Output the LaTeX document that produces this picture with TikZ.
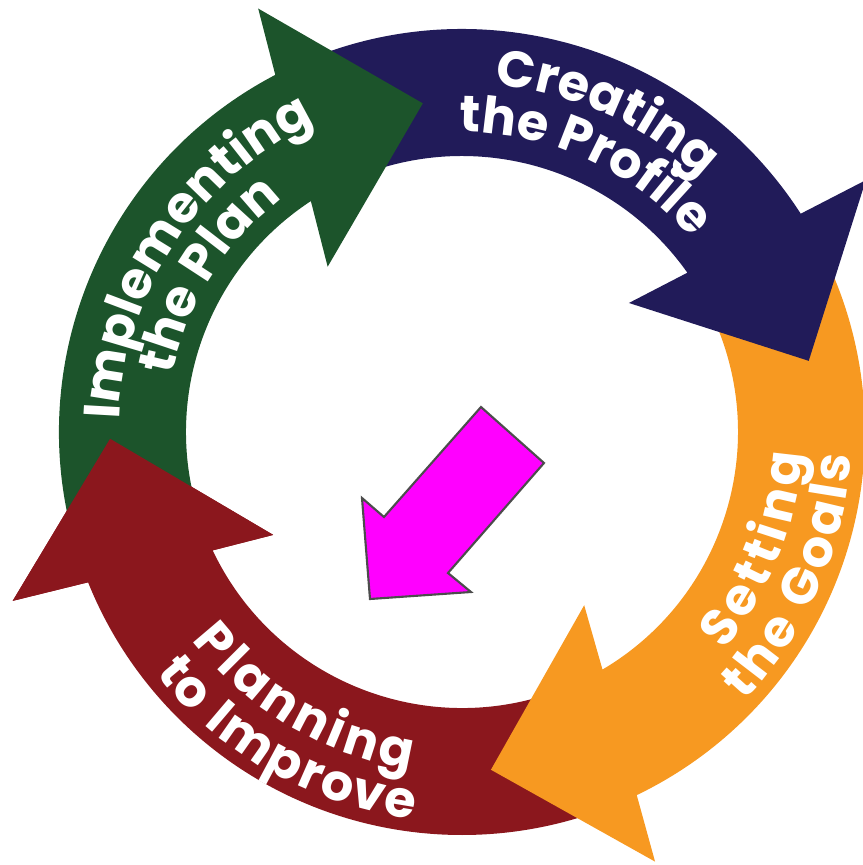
\documentclass[tikz,border=0pt]{standalone}
\usepackage{fontspec}
\newfontfamily\labelfont{Poppins}
\usetikzlibrary{decorations.text}

\definecolor{cycgreen}{RGB}{28,84,43}
\definecolor{cycnavy}{RGB}{33,27,89}
\definecolor{cycorange}{RGB}{247,153,33}
\definecolor{cycred}{RGB}{139,23,29}
\definecolor{cycpink}{RGB}{255,0,255}

\tikzset{
  ring label/.style={decorate, decoration={text along path, text align=center, text color=white,
    text={|\labelfont\bfseries\fontsize{14.5}{16}\selectfont|#1}}},
  spread/.style={decoration={text align={fit to path}}},
  pointer/.style={fill=cycpink, draw=black!70, line width=0.6pt, line join=miter}
}

\begin{document}
\begin{tikzpicture}
\useasboundingbox (-4.62,-4.33) rectangle (4.01,4.32);

% the four ring arrows, each tail tucked under the previous head
\fill[cycred] (294:4.03) arc[start angle=294, end angle=201.9, radius=4.03] -- (200.6:4.80) -- (181.1:3.52) -- (208.6:2.15) -- (205.4:2.76) arc[start angle=205.4, end angle=294, radius=2.76] -- cycle;
\fill[cycorange] (30:4.03) arc[start angle=30, end angle=-64.3, radius=4.03] -- (-65.8:4.71) -- (-85.1:3.39) -- (-54.8:2.12) -- (-59.4:2.76) arc[start angle=-59.4, end angle=30, radius=2.76] -- cycle;
\fill[cycnavy] (116:4.03) arc[start angle=116, end angle=32.8, radius=4.03] -- (31.95:4.76) -- (11.6:3.54) -- (37.7:2.11) -- (35.25:2.76) arc[start angle=35.25, end angle=116, radius=2.76] -- cycle;
\fill[cycgreen] (200:4.03) arc[start angle=200, end angle=117.6, radius=4.03] -- (115.7:4.70) -- (96.8:3.31) -- (129.1:2.13) -- (123.2:2.76) arc[start angle=123.2, end angle=200, radius=2.76] -- cycle;
\fill[cycred] (201.9:4.03) -- (200.6:4.80) -- (181.1:3.52) -- (208.6:2.15) -- (205.4:2.76) -- cycle;

% labels, clockwise ones centred, anticlockwise ones spread over their arcs
\path[ring label=Creating] (105.6:3.49) arc[start angle=105.6, end angle=25.6, radius=3.49];
\path[ring label=the Profile] (105.3:3.00) arc[start angle=105.3, end angle=25.3, radius=3.00];
\path[ring label=Setting, spread] (-39.8:3.41) arc[start angle=-39.8, end angle=-3.6, radius=3.41];
\path[ring label=the Goals, spread] (-43.6:3.90) arc[start angle=-43.6, end angle=-3.4, radius=3.90];
\path[ring label=Planning, spread] (217.7:3.41) arc[start angle=217.7, end angle=261.4, radius=3.41];
\path[ring label=to Improve, spread] (218.2:3.90) arc[start angle=218.2, end angle=262.9, radius=3.90];
\path[ring label=Implementing] (186.7:3.43) arc[start angle=186.7, end angle=106.7, radius=3.43];
\path[ring label=the Plan] (188.2:2.95) arc[start angle=188.2, end angle=108.2, radius=2.95];

% centre pointer
\draw[pointer] (0.19,0.25) -- (0.82,-0.31) -- (-0.14,-1.41) -- (0.09,-1.60) -- (-0.92,-1.67) -- (-1.00,-0.66) -- (-0.78,-0.85) -- cycle;
\end{tikzpicture}
\end{document}
